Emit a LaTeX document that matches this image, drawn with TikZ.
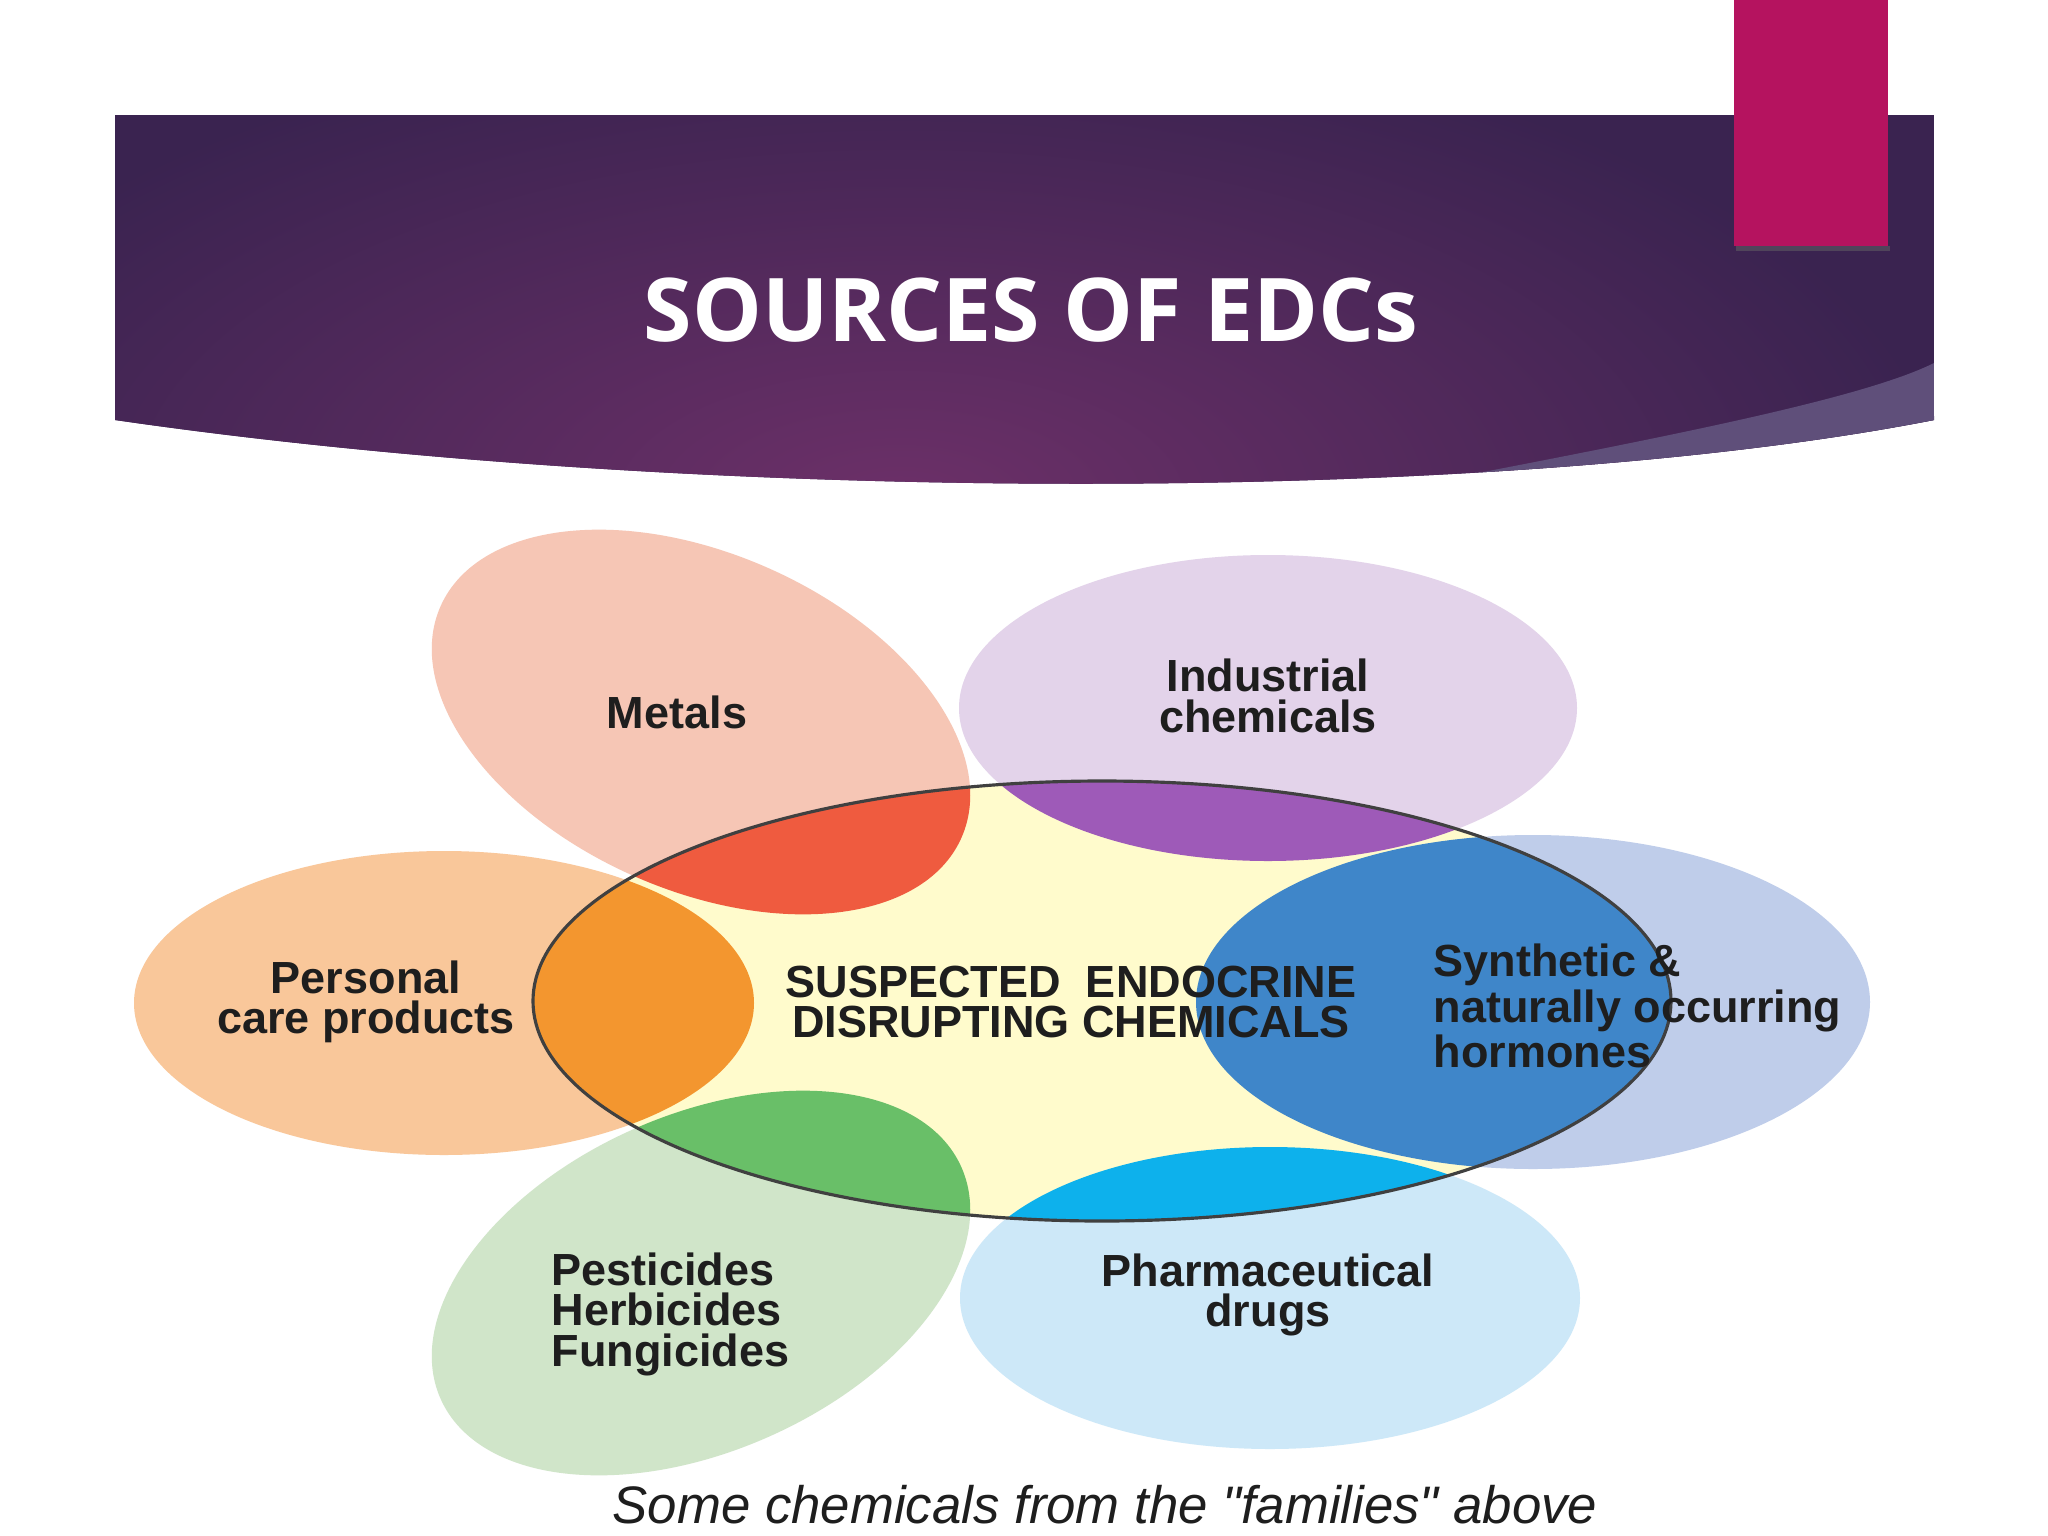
\documentclass[tikz,border=0pt]{standalone}
\usepackage{fontspec}
\setmainfont{Liberation Sans}
\newfontfamily\titlefont{Open Sans}
\usepackage{tikz}
\usetikzlibrary{positioning}

% banner colours
\definecolor{bannerdark}{HTML}{3A2350}
\definecolor{bannermid}{HTML}{6C3068}
\definecolor{swooshcol}{HTML}{5F4F7A}
\definecolor{magentabar}{HTML}{B5135F}
% petal colours (outside / inside the core)
\definecolor{metallight}{HTML}{F6C6B5}
\definecolor{metaldark}{HTML}{EF5B3F}
\definecolor{industrylight}{HTML}{E3D3EA}
\definecolor{industrydark}{HTML}{9E5AB8}
\definecolor{carelight}{HTML}{F9C79A}
\definecolor{caredark}{HTML}{F3962F}
\definecolor{hormonelight}{HTML}{BFCDEA}
\definecolor{hormonedark}{HTML}{3F86C9}
\definecolor{pestlight}{HTML}{D0E5C9}
\definecolor{pestdark}{HTML}{69BF68}
\definecolor{pharmalight}{HTML}{CDE8F8}
\definecolor{pharmadark}{HTML}{0DB1EC}
\definecolor{corefill}{HTML}{FFFBCC}
\definecolor{inktext}{HTML}{1E1E1E}

% shapes, in pixel units
\newcommand{\coreshape}{(1102,1001) circle [x radius=569, y radius=220]}
\newcommand{\metalshape}{(701,722) circle [x radius=285, y radius=168, rotate=-24]}
\newcommand{\industryshape}{(1268,708) circle [x radius=309, y radius=153]}
\newcommand{\careshape}{(444,1003) circle [x radius=310, y radius=152]}
\newcommand{\hormoneshape}{(1533,1002) circle [x radius=337, y radius=167]}
\newcommand{\pestshape}{(701,1283) circle [x radius=285, y radius=168, rotate=24]}
\newcommand{\pharmashape}{(1270,1298) circle [x radius=310, y radius=151]}

\begin{document}
\begin{tikzpicture}[x=0.01cm, y=-0.01cm,
    headtext/.style={text=white, font=\titlefont\bfseries\fontsize{25pt}{30pt}\selectfont, inner sep=0pt},
    petaltext/.style={text=inktext, align=center, inner sep=0pt, font=\bfseries\fontsize{12.8pt}{11.5pt}\selectfont},
    notetext/.style={text=inktext, inner sep=0pt, font=\itshape\fontsize{15pt}{18pt}\selectfont}
]
\useasboundingbox (0,0) rectangle (2048,1536);
\fill[white] (0,0) rectangle (2048,1536);

% Banner
\begin{scope}
\clip (115,115) -- (1934,115) -- (1934,420) .. controls (1500,505) and (700,505) .. (115,420) -- cycle;
\fill[bannerdark] (115,115) rectangle (1934,520);
\shade[inner color=bannermid, outer color=bannerdark] (900,500) ellipse [x radius=1050, y radius=480];
\fill[swooshcol] (1934,363) .. controls (1860,400) and (1650,440) .. (1400,488) -- (1934,600) -- cycle;
\end{scope}
\fill[black!60, opacity=0.5] (1736,246) rectangle (1890,251);
\fill[magentabar] (1734,0) rectangle (1888,246);
\node[headtext] (title) at (1031,310) {SOURCES OF EDCs};

% Petals
\fill[metallight] \metalshape;
\fill[industrylight] \industryshape;
\fill[carelight] \careshape;
\fill[hormonelight] \hormoneshape;
\fill[pestlight] \pestshape;
\fill[pharmalight] \pharmashape;

% Core and overlaps
\fill[corefill] \coreshape;
\begin{scope}
\clip \coreshape;
\fill[metaldark] \metalshape;
\fill[industrydark] \industryshape;
\fill[caredark] \careshape;
\fill[hormonedark] \hormoneshape;
\fill[pestdark] \pestshape;
\fill[pharmadark] \pharmashape;
\end{scope}
\draw[line width=0.9pt, inktext!85] \coreshape;

% Labels
\node[petaltext] (metals) at (677,712) {Metals};
\node[petaltext] (industry) at (1268,696) {Industrial\\chemicals};
\node[petaltext] (care) at (366,1002) {Personal\\care products};
\node[petaltext] (core) at (1071,1002) {SUSPECTED\ \ ENDOCRINE\\DISRUPTING CHEMICALS};
\node[petaltext, align=left, anchor=west] (hormones) at (1433,1006) {Synthetic \&\\naturally occurring\\hormones};
\node[petaltext, align=left, anchor=west] (pests) at (551,1314) {Pesticides\\Herbicides\\Fungicides};
\node[petaltext] (pharma) at (1268,1295) {Pharmaceutical\\drugs};
\node[notetext] (note) at (1105,1505) {Some chemicals from the \textquotedbl families\textquotedbl\ above};
\end{tikzpicture}
\end{document}
